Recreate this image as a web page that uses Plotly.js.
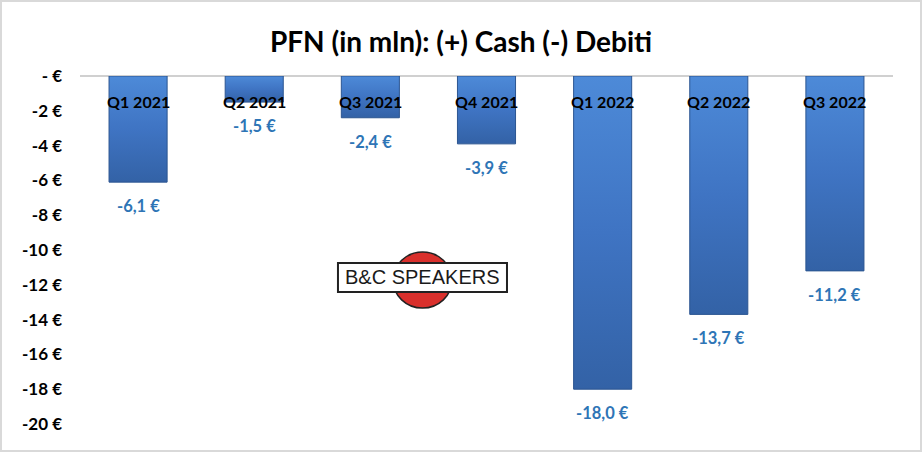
<!DOCTYPE html>
<html>
<head>
<meta charset="utf-8">
<script src="https://cdn.plot.ly/plotly-3.0.1.min.js"></script>
<style>
  html, body { margin: 0; padding: 0; background: #fff; }
  #wrap { position: relative; width: 922px; height: 452px; }
  #chart { width: 922px; height: 452px; }
  #frame { position: absolute; left: 0; top: 0; right: 0; bottom: 0; border: 2px solid #d9d9d9; pointer-events: none; }
</style>
</head>
<body>
<div id="wrap"><div id="chart"></div><div id="frame"></div></div>
<script>
const categories = ['Q1 2021', 'Q2 2021', 'Q3 2021', 'Q4 2021', 'Q1 2022', 'Q2 2022', 'Q3 2022'];
const values = [-6.1, -1.5, -2.4, -3.9, -18.0, -13.7, -11.2];
const tickVals = [0, -2, -4, -6, -8, -10, -12, -14, -16, -18, -20];
const tickText = ['- €', '-2 €', '-4 €', '-6 €', '-8 €', '-10 €', '-12 €', '-14 €', '-16 €', '-18 €', '-20 €'];
const titleText = 'PFN (in mln): (+) Cash (-) Debiti';
const logoText = 'B&C SPEAKERS';

const FONT = 'Lato, "Open Sans", sans-serif';

const valueLabels = values.map((v, i) => ({
  x: categories[i], y: v, xref: 'x', yref: 'y',
  text: '<b>' + v.toFixed(1).replace('.', ',') + ' €</b>',
  showarrow: false, yanchor: 'middle', yshift: -24,
  font: { family: FONT, size: 16.5, color: '#2E75B6' }
}));
const catLabels = categories.map(c => ({
  x: c, y: 0, xref: 'x', yref: 'y', text: '<b>' + c + '</b>',
  showarrow: false, yanchor: 'middle', yshift: -25,
  font: { family: FONT, size: 16, color: '#000' }
}));

const trace = {
  type: 'bar', x: categories, y: values,
  marker: { color: '#3d72c2', line: { color: '#2b5591', width: 1 } },
  hoverinfo: 'skip'
};

const layout = {
  width: 922, height: 452,
  margin: { l: 80, r: 29, t: 76, b: 28 },
  paper_bgcolor: '#fff', plot_bgcolor: '#fff',
  showlegend: false,
  bargap: 0.5,
  title: { text: '<b>' + titleText + '</b>', x: 0.5, xanchor: 'center', xref: 'container',
           y: 1 - 42/452, yanchor: 'middle', yref: 'container',
           font: { family: FONT, size: 28, color: '#000' } },
  xaxis: { type: 'category', showticklabels: false, showgrid: false, zeroline: false, showline: false, ticks: '' },
  yaxis: { range: [-20, 0], tickvals: tickVals, ticktext: tickText.map(t => '<b>' + t + '</b>'), showgrid: false,
           zeroline: true, zerolinecolor: '#d0d0d0', zerolinewidth: 2, showline: false,
           ticks: '', ticklabelstandoff: 17,
           tickfont: { family: FONT, size: 17, color: '#000' } },
  shapes: [
    { type: 'circle', xref: 'paper', yref: 'paper', x0: 0.385, x1: 0.4576, y0: 0.333, y1: 0.494,
      fillcolor: '#d9302c', line: { color: '#222', width: 1.5 }, layer: 'above' },
    { type: 'rect', xref: 'paper', yref: 'paper', x0: 0.3173, x1: 0.5252, y0: 0.379, y1: 0.463,
      fillcolor: '#fff', line: { color: '#222', width: 2 }, layer: 'above' }
  ],
  annotations: valueLabels.concat(catLabels).concat([
    { xref: 'paper', yref: 'paper', x: 0.4207, y: 0.421, text: logoText, showarrow: false,
      xanchor: 'center', yanchor: 'middle',
      font: { family: '"Liberation Sans", Arial, sans-serif', size: 20, color: '#1a1a1a' } }
  ])
};

Plotly.newPlot('chart', [trace], layout, { staticPlot: true, displayModeBar: false }).then(gd => {
  const svg = gd.querySelector('svg.main-svg');
  const defs = svg.querySelector('defs');
  const ns = 'http://www.w3.org/2000/svg';
  const grad = document.createElementNS(ns, 'linearGradient');
  grad.setAttribute('id', 'barGrad');
  grad.setAttribute('x1', '0'); grad.setAttribute('y1', '0');
  grad.setAttribute('x2', '0'); grad.setAttribute('y2', '1');
  [['0', '#4d8ad8'], ['0.5', '#3f74c3'], ['1', '#3362a6']].forEach(([o, c]) => {
    const s = document.createElementNS(ns, 'stop');
    s.setAttribute('offset', o); s.setAttribute('stop-color', c);
    grad.appendChild(s);
  });
  defs.appendChild(grad);
  gd.querySelectorAll('.bars .point path').forEach(p => { p.style.fill = 'url(#barGrad)'; });
});
</script>
</body>
</html>
